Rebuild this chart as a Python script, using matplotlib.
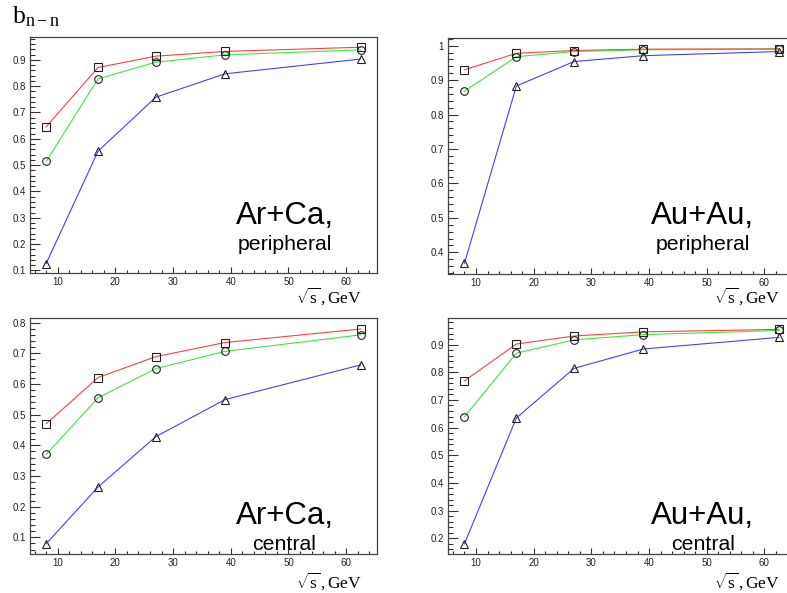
import matplotlib
matplotlib.use("Agg")
import matplotlib.pyplot as plt
from matplotlib.ticker import MultipleLocator, FormatStrFormatter

plt.rcParams['mathtext.fontset'] = 'custom'
plt.rcParams['mathtext.rm'] = 'Liberation Serif'
plt.rcParams['mathtext.it'] = 'Liberation Serif:italic'
plt.rcParams['mathtext.bf'] = 'Liberation Serif:bold'
plt.rcParams['font.family'] = ['Liberation Sans', 'DejaVu Sans']

# ---- data ----
energies = [8, 17, 27, 39, 62.5]

arca_per_sq = [0.646, 0.871, 0.914, 0.932, 0.948]
arca_per_ci = [0.514, 0.828, 0.891, 0.919, 0.938]
arca_per_tr = [0.126, 0.553, 0.758, 0.847, 0.903]

auau_per_sq = [0.930, 0.978, 0.986, 0.990, 0.991]
auau_per_ci = [0.868, 0.968, 0.983, 0.988, 0.990]
auau_per_tr = [0.368, 0.883, 0.954, 0.971, 0.983]

arca_cen_sq = [0.470, 0.621, 0.689, 0.735, 0.779]
arca_cen_ci = [0.370, 0.555, 0.650, 0.706, 0.760]
arca_cen_tr = [0.079, 0.264, 0.428, 0.549, 0.662]

auau_cen_sq = [0.769, 0.902, 0.931, 0.946, 0.955]
auau_cen_ci = [0.639, 0.869, 0.917, 0.936, 0.951]
auau_cen_tr = [0.180, 0.635, 0.814, 0.884, 0.926]

panel_titles = [("Ar+Ca,", "peripheral"), ("Au+Au,", "peripheral"),
                ("Ar+Ca,", "central"), ("Au+Au,", "central")]
ylims = [(0.089, 0.988), (0.337, 1.0215), (0.0456, 0.814), (0.143, 0.995)]

W, H = 787, 593
fig = plt.figure(figsize=(W / 100, H / 100), dpi=100)

def rect(l, t, r, b):
    return [l / W, 1 - b / H, (r - l) / W, (b - t) / H]

rects = [rect(30, 36.7, 376.7, 273.3), rect(448.3, 38.3, 795, 274),
         rect(30, 318.3, 376.7, 554), rect(448.3, 318.3, 795, 554)]
label_baselines = [302.5, 302.5, 587.5, 587.5]

datasets = [(arca_per_sq, arca_per_ci, arca_per_tr),
            (auau_per_sq, auau_per_ci, auau_per_tr),
            (arca_cen_sq, arca_cen_ci, arca_cen_tr),
            (auau_cen_sq, auau_cen_ci, auau_cen_tr)]

colors = ['#ff0000', '#00dd00', '#0000ff']
markers = ['s', 'o', '^']

for i, (r, ds, (t1, t2), yl) in enumerate(zip(rects, datasets, panel_titles, ylims)):
    ax = fig.add_axes(r)
    for y, c, m in zip(ds, colors, markers):
        ax.plot(energies, y, color=c, lw=0.8, alpha=0.75, zorder=2)
        ax.plot(energies, y, ls='none', marker=m, ms=5.5, mfc='none',
                mec='#222222', mew=0.8, zorder=3)
    ax.set_xlim(5.2, 65.3)
    ax.set_ylim(*yl)
    ax.xaxis.set_major_locator(MultipleLocator(10))
    ax.xaxis.set_minor_locator(MultipleLocator(2))
    ax.yaxis.set_major_locator(MultipleLocator(0.1))
    ax.yaxis.set_minor_locator(MultipleLocator(0.02))
    ax.yaxis.set_major_formatter(FormatStrFormatter('%g'))
    ax.tick_params(axis='both', which='both', direction='in', top=False, right=False,
                   colors='#333333', labelcolor='#222222', labelsize=7, width=0.8)
    ax.tick_params(axis='x', which='major', length=4.5, pad=3)
    ax.tick_params(axis='x', which='minor', length=2.2)
    ax.tick_params(axis='y', which='major', length=7, pad=3)
    ax.tick_params(axis='y', which='minor', length=3.6)
    for s in ax.spines.values():
        s.set_color('#444444')
        s.set_linewidth(0.9)
    # panel text
    x0 = r[0] * W
    cx = x0 + 254.5
    top = 0 if i < 2 else 300
    fig.text(cx / W, 1 - (top + 224) / H, t1, ha='center', va='baseline',
             fontsize=22.5, family=['Liberation Sans', 'DejaVu Sans'])
    fig.text(cx / W, 1 - (top + 250) / H, t2, ha='center', va='baseline',
             fontsize=15.3, family=['Liberation Sans', 'DejaVu Sans'])
    # x label
    fig.text((x0 + 331.7) / W, 1 - label_baselines[i] / H,
             r'$\sqrt{\mathrm{s}}\,,\mathrm{GeV}$', ha='right', va='baseline',
             fontsize=12.5)

fig.text(12 / W, 1 - 23.3 / H, r'$\mathrm{b}_{\mathrm{n-n}}$', ha='left',
         va='baseline', fontsize=18.5)

fig.savefig('out.png', dpi=100)
